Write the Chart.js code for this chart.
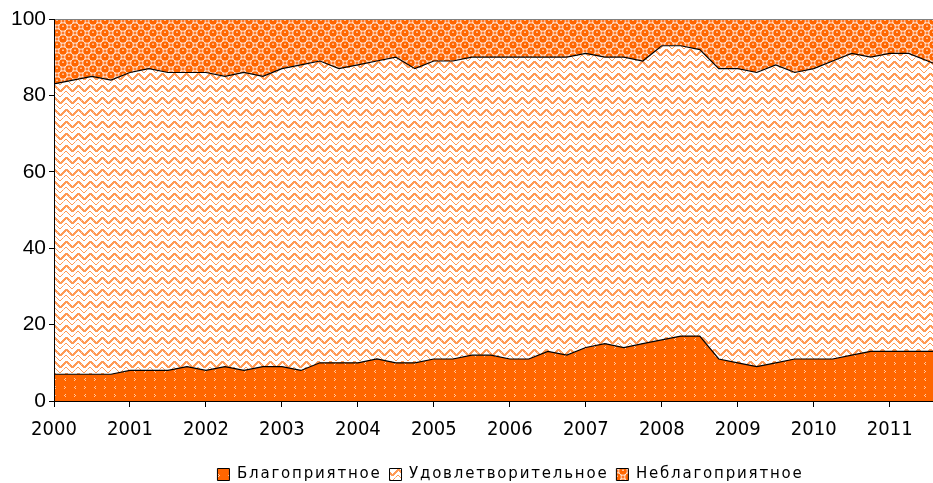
<!DOCTYPE html>
<html>
<head>
<meta charset="utf-8">
<script src="https://cdn.jsdelivr.net/npm/chart.js@4/dist/chart.umd.min.js"></script>
<style>
html,body{margin:0;padding:0;background:#fff;overflow:hidden}
#wrap{width:933px;height:483px;position:relative}
</style>
</head>
<body>
<div id="wrap"><canvas id="c" width="933" height="483"></canvas></div>
<script>
// ---- data (quarterly shares, %) ----
const quarters = [
  2000, 2000.25, 2000.5, 2000.75,
  2001, 2001.25, 2001.5, 2001.75,
  2002, 2002.25, 2002.5, 2002.75,
  2003, 2003.25, 2003.5, 2003.75,
  2004, 2004.25, 2004.5, 2004.75,
  2005, 2005.25, 2005.5, 2005.75,
  2006, 2006.25, 2006.5, 2006.75,
  2007, 2007.25, 2007.5, 2007.75,
  2008, 2008.25, 2008.5, 2008.75,
  2009, 2009.25, 2009.5, 2009.75,
  2010, 2010.25, 2010.5, 2010.75,
  2011, 2011.25, 2011.5, 2011.75
];
const seriesNames = ['Благоприятное', 'Удовлетворительное', 'Неблагоприятное'];
const favorable = [
  7, 7, 7, 7,
  8, 8, 8, 9,
  8, 9, 8, 9,
  9, 8, 10, 10,
  10, 11, 10, 10,
  11, 11, 12, 12,
  11, 11, 13, 12,
  14, 15, 14, 15,
  16, 17, 17, 11,
  10, 9, 10, 11,
  11, 11, 12, 13,
  13, 13, 13, 13
];
const satisfactory = [
  76, 77, 78, 77,
  78, 79, 78, 77,
  78, 76, 78, 76,
  78, 80, 79, 77,
  78, 78, 80, 77,
  78, 78, 78, 78,
  79, 79, 77, 78,
  77, 75, 76, 74,
  77, 76, 75, 76,
  77, 77, 78, 75,
  76, 78, 79, 77,
  78, 78, 76, 74
];
const unfavorable = [
  17, 16, 15, 16,
  14, 13, 14, 14,
  14, 15, 14, 15,
  13, 12, 11, 13,
  12, 11, 10, 13,
  11, 11, 10, 10,
  10, 10, 10, 10,
  9, 10, 10, 11,
  7, 7, 8, 13,
  13, 14, 12, 14,
  13, 11, 9, 10,
  9, 9, 11, 13
];
const yearTicks = [2000, 2001, 2002, 2003, 2004, 2005, 2006, 2007, 2008, 2009, 2010, 2011];
const valueTicks = [0, 20, 40, 60, 80, 100];

// ---- patterns ----
const mainCtx = document.getElementById('c').getContext('2d');
function makePattern(w, h, draw) {
  const c = document.createElement('canvas');
  c.width = w; c.height = h;
  draw(c.getContext('2d'));
  return mainCtx.createPattern(c, 'repeat');
}
const patFav = makePattern(20, 16, g => {
  g.fillStyle = '#FF6600'; g.fillRect(0, 0, 20, 16);
  g.fillStyle = '#FFC9A3';
  const px = pts => pts.forEach(p => g.fillRect(p[0], p[1], 1, 1));
  px([[4,2],[5,3],[4,4]]);
  px([[15,2],[14,3],[15,4]]);
  px([[14,10],[15,11],[14,12]]);
  px([[5,10],[4,11],[5,12]]);
});
const patSat = makePattern(12, 12, g => {
  g.fillStyle = '#FFFFFF'; g.fillRect(0, 0, 12, 12);
  g.fillStyle = '#FF9A55';
  // herringbone-like stepped strokes
  for (let k = 0; k < 6; k++) {
    g.fillRect(k, (6 - k + 12) % 12, 2, 2);
    g.fillRect(6 + k, (1 + k) % 12, 2, 2);
    g.fillRect(k, (12 - k) % 12, 1, 1);
    g.fillRect(6 + k, (7 + k) % 12, 1, 1);
  }
  g.fillStyle = '#FFC4A0';
  g.fillRect(3, 9, 1, 1); g.fillRect(9, 4, 1, 1);
});
const patUnf = makePattern(12, 12, g => {
  g.fillStyle = '#FFFFFF'; g.fillRect(0, 0, 12, 12);
  g.fillStyle = '#FF6600';
  const circ = (x, y, r) => { g.beginPath(); g.arc(x, y, r, 0, Math.PI * 2); g.fill(); };
  [[3,3],[9,9],[15,3],[-3,9],[3,15],[9,-3],[15,15],[-3,-3]].forEach(p => circ(p[0], p[1], 3.8));
  g.fillStyle = '#FF7A28';
  [[9,3],[3,9]].forEach(p => g.fillRect(p[0] - 1.5, p[1] - 1.5, 3, 3));
  g.fillStyle = '#FFC29A';
  g.fillRect(2, 1.5, 2, 1.5); g.fillRect(8, 7.5, 2, 1.5);
});

// ---- legend tweak: letter spacing and centre offset ----
const LEGEND_LS = '1.8px';
const LEGEND_DX = 44;
const LEGEND_H = 24;
const legendTweak = {
  id: 'legendTweak',
  beforeLayout(chart) {
    const lg = chart.legend;
    if (!lg || lg._tw) return;
    lg._tw = true;
    const origFit = lg.fit.bind(lg);
    lg.fit = function () {
      const c = this.ctx; c.save(); c.letterSpacing = LEGEND_LS; origFit(); c.restore();
      this.height = LEGEND_H;
    };
    const origDraw = lg.draw.bind(lg);
    lg.draw = function (a) {
      const c = this.ctx; c.save(); c.translate(LEGEND_DX, 0); c.letterSpacing = LEGEND_LS; origDraw(a); c.restore();
    };
  }
};

const toXY = arr => arr.map((v, i) => ({ x: quarters[i], y: v }));

new Chart(mainCtx, {
  type: 'line',
  data: {
    datasets: [
      { label: seriesNames[0], data: toXY(favorable), backgroundColor: patFav, borderColor: '#000', borderWidth: 1.2, fill: 'origin', pointRadius: 0, tension: 0 },
      { label: seriesNames[1], data: toXY(satisfactory), backgroundColor: patSat, borderColor: '#000', borderWidth: 1.2, fill: '-1', pointRadius: 0, tension: 0 },
      { label: seriesNames[2], data: toXY(unfavorable), backgroundColor: patUnf, borderColor: '#000', borderWidth: 0, fill: '-1', pointRadius: 0, tension: 0 }
    ]
  },
  options: {
    responsive: false,
    animation: false,
    devicePixelRatio: 1,
    layout: { padding: { top: 19, right: 0, bottom: 0, left: 0 } },
    plugins: {
      tooltip: { enabled: false },
      legend: {
        position: 'bottom',
        labels: {
          boxWidth: 12, boxHeight: 12, padding: 8,
          color: '#000',
          font: { family: 'DejaVu Sans', size: 15 },
          generateLabels(chart) {
            const items = Chart.defaults.plugins.legend.labels.generateLabels(chart);
            items.forEach(it => { it.lineWidth = 1; it.strokeStyle = '#000'; });
            return items;
          }
        }
      }
    },
    scales: {
      x: {
        type: 'linear',
        min: 2000,
        max: 2011.57,
        afterBuildTicks: s => { s.ticks = yearTicks.map(v => ({ value: v })); },
        afterFit: s => { s.height = 58; },
        ticks: { autoSkip: false, maxRotation: 0, padding: 11, color: '#000',
          font: { family: "'DejaVu Sans Condensed', 'Liberation Sans', sans-serif", size: 20 },
          callback: v => String(v) },
        grid: { display: true, drawOnChartArea: false, tickLength: 6, tickColor: '#000' },
        border: { display: true, color: '#000', width: 1, z: 1 }
      },
      y: {
        stacked: true,
        min: 0,
        max: 100,
        afterBuildTicks: s => { s.ticks = valueTicks.map(v => ({ value: v })); },
        afterFit: s => { s.width = 54; },
        ticks: { padding: 3, color: '#000', font: { family: "'Liberation Sans', sans-serif", size: 21 } },
        grid: { display: true, z: 1, tickLength: 5, tickColor: '#000',
          color: ctx => (ctx.tick && ctx.tick.value === 100) ? '#808080' : 'rgba(0,0,0,0)' },
        border: { display: true, color: '#000', width: 1, z: 1 }
      }
    }
  },
  plugins: [legendTweak]
});
</script>
</body>
</html>
